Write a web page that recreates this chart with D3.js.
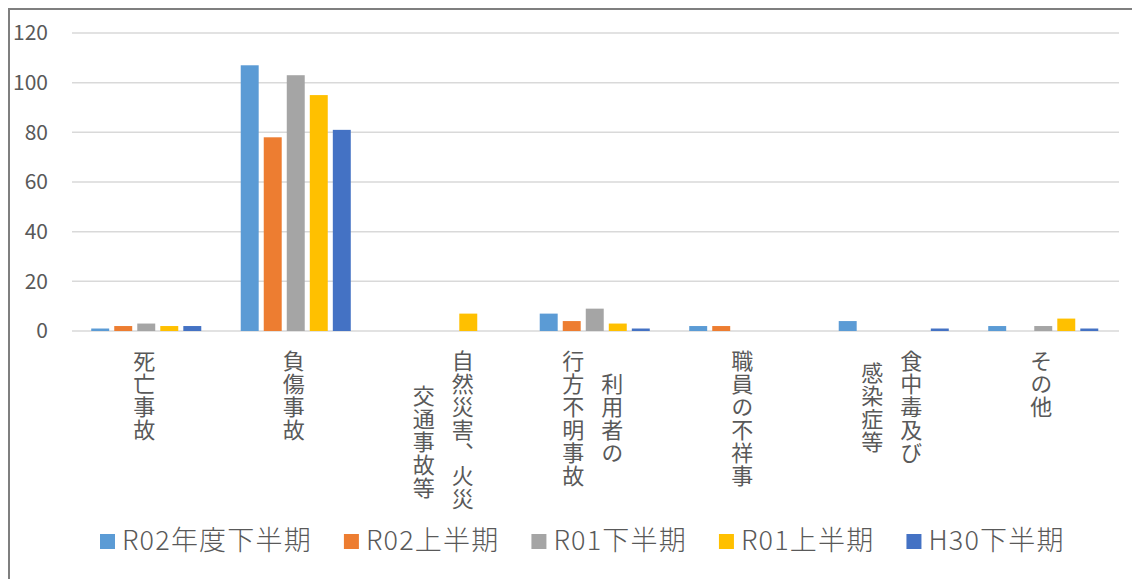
<!DOCTYPE html>
<meta charset="utf-8">
<title>事故件数</title>
<style>
body { margin: 0; background: #fff; }
text { font-family: "Noto Sans CJK JP", "Noto Sans", sans-serif; fill: #595959; }
.vlabel { writing-mode: vertical-rl; text-orientation: upright; }
</style>
<script src="https://d3js.org/d3.v7.min.js"></script>
<body>
<script>
var width = 1132;
var height = 579;

// data
var categories = ["死亡事故", "負傷事故", "自然災害、火災、交通事故等", "利用者の行方不明事故", "職員の不祥事", "食中毒及び感染症等", "その他"];
// how each category label wraps (first line is the right-hand column)
var categoryLines = [["死亡事故"], ["負傷事故"], ["自然災害、火災　", "交通事故等"], ["利用者の", "行方不明事故"], ["職員の不祥事"], ["食中毒及び", "感染症等"], ["その他"]];
var series = ["R02年度下半期", "R02上半期", "R01下半期", "R01上半期", "H30下半期"];
var colors = ["#5B9BD5", "#ED7D31", "#A5A5A5", "#FFC000", "#4472C4"];
var r02h2 = [1, 107, 0, 7, 2, 4, 2];
var r02h1 = [2, 78, 0, 4, 2, 0, 0];
var r01h2 = [3, 103, 0, 9, 0, 0, 2];
var r01h1 = [2, 95, 7, 3, 0, 0, 5];
var h30h2 = [2, 81, 0, 1, 0, 1, 1];
var yTicks = [0, 20, 40, 60, 80, 100, 120];

var values = [r02h2, r02h1, r01h2, r01h1, h30h2];

var svg = d3.select("body").append("svg")
    .attr("width", width)
    .attr("height", height);

// chart frame (only left and top edges are in view)
svg.append("path")
    .attr("d", "M9,579 V9 H1132")
    .attr("fill", "none")
    .attr("stroke", "#7f7f7f")
    .attr("stroke-width", 2);

var y = d3.scaleLinear().domain([0, 120]).range([331, 33]);
var x0 = d3.scaleBand().domain(categories).range([71.5, 1118])
    .paddingInner(0.23).paddingOuter(0.115);
var x1 = d3.scaleBand().domain(series).range([0, x0.bandwidth()])
    .paddingInner(0.22).paddingOuter(0.11);
var color = d3.scaleOrdinal().domain(series).range(colors);

// gridlines
svg.append("g").selectAll("line")
    .data(yTicks)
  .enter().append("line")
    .attr("x1", 72).attr("x2", 1119)
    .attr("y1", function(d) { return y(d); })
    .attr("y2", function(d) { return y(d); })
    .attr("stroke", "#d9d9d9")
    .attr("stroke-width", 1.5);

// y axis labels
var yAxis = d3.axisLeft(y).tickValues(yTicks).tickSize(0).tickPadding(0);
var ga = svg.append("g")
    .attr("transform", "translate(48,0)")
    .call(yAxis);
ga.select(".domain").remove();
ga.selectAll("text")
    .attr("font-size", 21)
    .attr("fill", "#595959")
    .style("font-family", "'Noto Sans CJK JP', sans-serif");

// bars
var groups = svg.append("g").selectAll("g")
    .data(categories)
  .enter().append("g")
    .attr("transform", function(d) { return "translate(" + x0(d) + ",0)"; });

groups.selectAll("rect")
    .data(function(c, ci) {
      return series.map(function(s, si) { return { s: s, v: values[si][ci] }; });
    })
  .enter().append("rect")
    .attr("x", function(d) { return x1(d.s); })
    .attr("width", x1.bandwidth())
    .attr("y", function(d) { return y(d.v); })
    .attr("height", function(d) { return y(0) - y(d.v); })
    .attr("fill", function(d) { return color(d.s); });

// vertical category labels
var pitch = 23, colGap = 39, labelTop = 350;
categories.forEach(function(c, ci) {
  var lines = categoryLines[ci];
  var cx = x0(c) + x0.bandwidth() / 2 - 2;
  var maxLen = d3.max(lines, function(l) { return Array.from(l).length; });
  lines.forEach(function(line, li) {
    var n = Array.from(line).length;
    svg.append("text")
        .attr("class", "vlabel")
        .attr("x", cx + (lines.length - 1) / 2 * colGap - li * colGap)
        .attr("y", labelTop + (maxLen - n) / 2 * pitch)
        .attr("font-size", 22)
        .attr("letter-spacing", pitch - 22)
        .text(line);
  });
});

// legend
var lx = 100;
var legend = svg.append("g");
series.forEach(function(s, i) {
  legend.append("rect")
      .attr("x", lx).attr("y", 534)
      .attr("width", 15).attr("height", 15)
      .attr("fill", colors[i]);
  var t = legend.append("text")
      .attr("x", lx + 22).attr("y", 550)
      .attr("font-size", 27)
      .attr("font-weight", 300)
      .attr("letter-spacing", 1.2)
      .text(s);
  lx += 22 + t.node().getComputedTextLength() + 32;
});
</script>
